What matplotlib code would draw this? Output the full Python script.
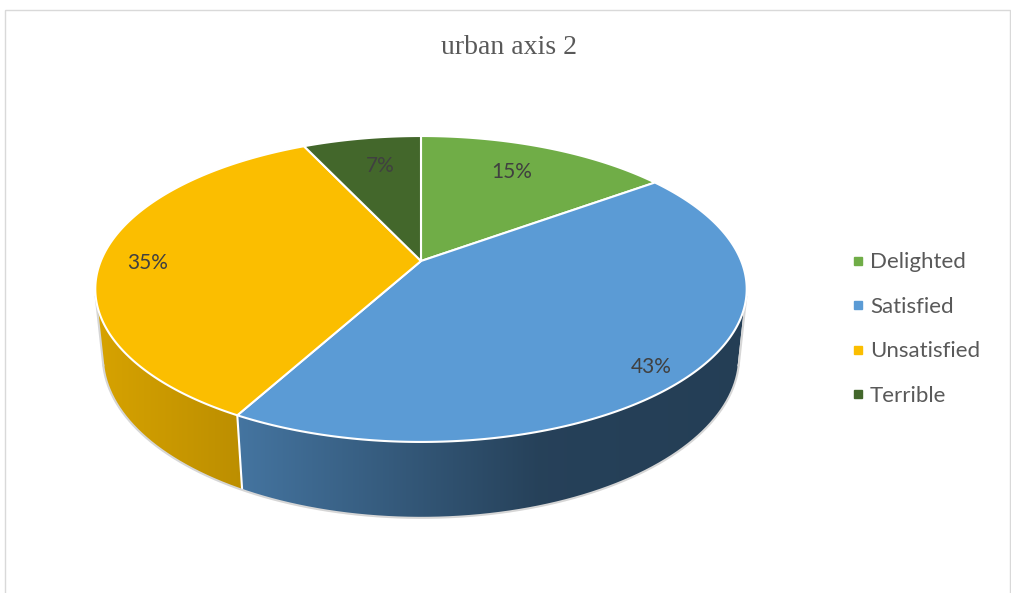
import numpy as np
import matplotlib.pyplot as plt
from matplotlib.patches import Polygon, Rectangle
from matplotlib.lines import Line2D
from matplotlib.colors import to_rgb

title = "urban axis 2"
categories = ["Delighted", "Satisfied", "Unsatisfied", "Terrible"]
shares = [15, 43, 35, 7]
colors = ["#70ad47", "#5b9bd5", "#fbbe00", "#43672b"]

# label placement: radius on the disk plus a small pixel nudge
label_radius = [0.72, 0.9, 0.86, 0.76]
label_nudge = [(-3, -4), (-12, 7), (0, 6), (6, 2)]

# view of the tilted disk (simple pinhole camera)
ELEV = np.radians(27.5)
DIST = 4.85
FOCAL = 1553.0
CX, CY = 421.0, 261.0
THICK = 0.239

# side wall brightness vs. screen x
SHADE_X = [90, 240, 540, 760]
SHADE_K = [0.86, 0.75, 0.42, 0.40]


def project(u, v, z):
    s, c = np.sin(ELEV), np.cos(ELEV)
    depth = DIST + v * c - z * s
    x = CX + FOCAL * u / depth
    y = CY - FOCAL * (v * s + z * c) / depth
    return x, y


def arc(a0, a1, z, n=200):
    a = np.linspace(a0, a1, n)
    return project(np.sin(a), np.cos(a), z)


fig = plt.figure(figsize=(10.12, 5.93), dpi=100)
ax = fig.add_axes([0, 0, 1, 1])
ax.set_xlim(0, 1012)
ax.set_ylim(593, 0)
ax.axis("off")

ax.add_patch(Rectangle((5.5, 9.5), 1005, 620, fill=False,
                       edgecolor="#d9d9d9", lw=1.0))

ax.text(509, 47, title, ha="center", va="center", fontsize=20,
        family="Liberation Serif", color="#595959")

fracs = np.array(shares) / np.sum(shares)
edges = np.concatenate([[0], np.cumsum(fracs)]) * 2 * np.pi

# walls are only seen where the rim faces the camera
v_lim = -1.0 / (DIST * np.cos(ELEV))
a_lo = np.pi - np.arccos(-v_lim)
a_hi = np.pi + np.arccos(-v_lim)

xs = np.arange(0, 1012)
shade = np.interp(xs, SHADE_X, SHADE_K)

for i, col in enumerate(colors):
    a0, a1 = max(edges[i], a_lo), min(edges[i + 1], a_hi)
    if a1 <= a0:
        continue
    tx, ty = arc(a0, a1, 0)
    bx, by = arc(a0, a1, -THICK)
    pts = np.column_stack([np.concatenate([tx, bx[::-1]]),
                           np.concatenate([ty, by[::-1]])])
    wall = Polygon(pts, closed=True, facecolor="none", edgecolor="none")
    ax.add_patch(wall)
    grad = np.array(to_rgb(col))[None, None, :] * shade[None, :, None]
    im = ax.imshow(np.repeat(grad, 2, axis=0), extent=(0, 1012, 593, 0),
                   aspect="auto", zorder=1)
    im.set_clip_path(wall)
    # thin white seam where walls meet
    ax.plot([tx[0], bx[0]], [ty[0], by[0]], color="white", lw=1.5, zorder=2)

# outer silhouette of the wall
bx, by = arc(a_lo, a_hi, -THICK)
ax.plot(bx, by, color="#d6d6d6", lw=1.5, zorder=2)
for a in (a_lo, a_hi):
    x0, y0 = project(np.sin(a), np.cos(a), 0)
    x1, y1 = project(np.sin(a), np.cos(a), -THICK)
    ax.plot([x0, x1], [y0, y1], color="#d6d6d6", lw=1.5, zorder=2)

# top faces
for i, col in enumerate(colors):
    tx, ty = arc(edges[i], edges[i + 1], 0)
    pts = np.column_stack([np.concatenate([[CX], tx]),
                           np.concatenate([[CY], ty])])
    ax.add_patch(Polygon(pts, closed=True, facecolor=col,
                         edgecolor="white", lw=1.5, joinstyle="round",
                         zorder=3))

# percentage labels
for i, share in enumerate(shares):
    mid = 0.5 * (edges[i] + edges[i + 1])
    r = label_radius[i]
    lx, ly = project(r * np.sin(mid), r * np.cos(mid), 0)
    dx, dy = label_nudge[i]
    ax.text(lx + dx, ly + dy, f"{share}%", ha="center", va="center",
            fontsize=15, family="Lato", color="#404040", zorder=4)

handles = [Line2D([], [], marker="s", linestyle="none", markersize=6,
                  markerfacecolor=c, markeredgecolor=c) for c in colors]
leg = ax.legend(handles, categories, loc="center left",
                bbox_to_anchor=(0.842, 0.445), frameon=False,
                prop={"family": "Lato", "size": 16}, labelspacing=1.1,
                handletextpad=0.25, handlelength=0.55, borderpad=0,
                borderaxespad=0)
for t in leg.get_texts():
    t.set_color("#595959")

fig.savefig("out.png", dpi=100)
